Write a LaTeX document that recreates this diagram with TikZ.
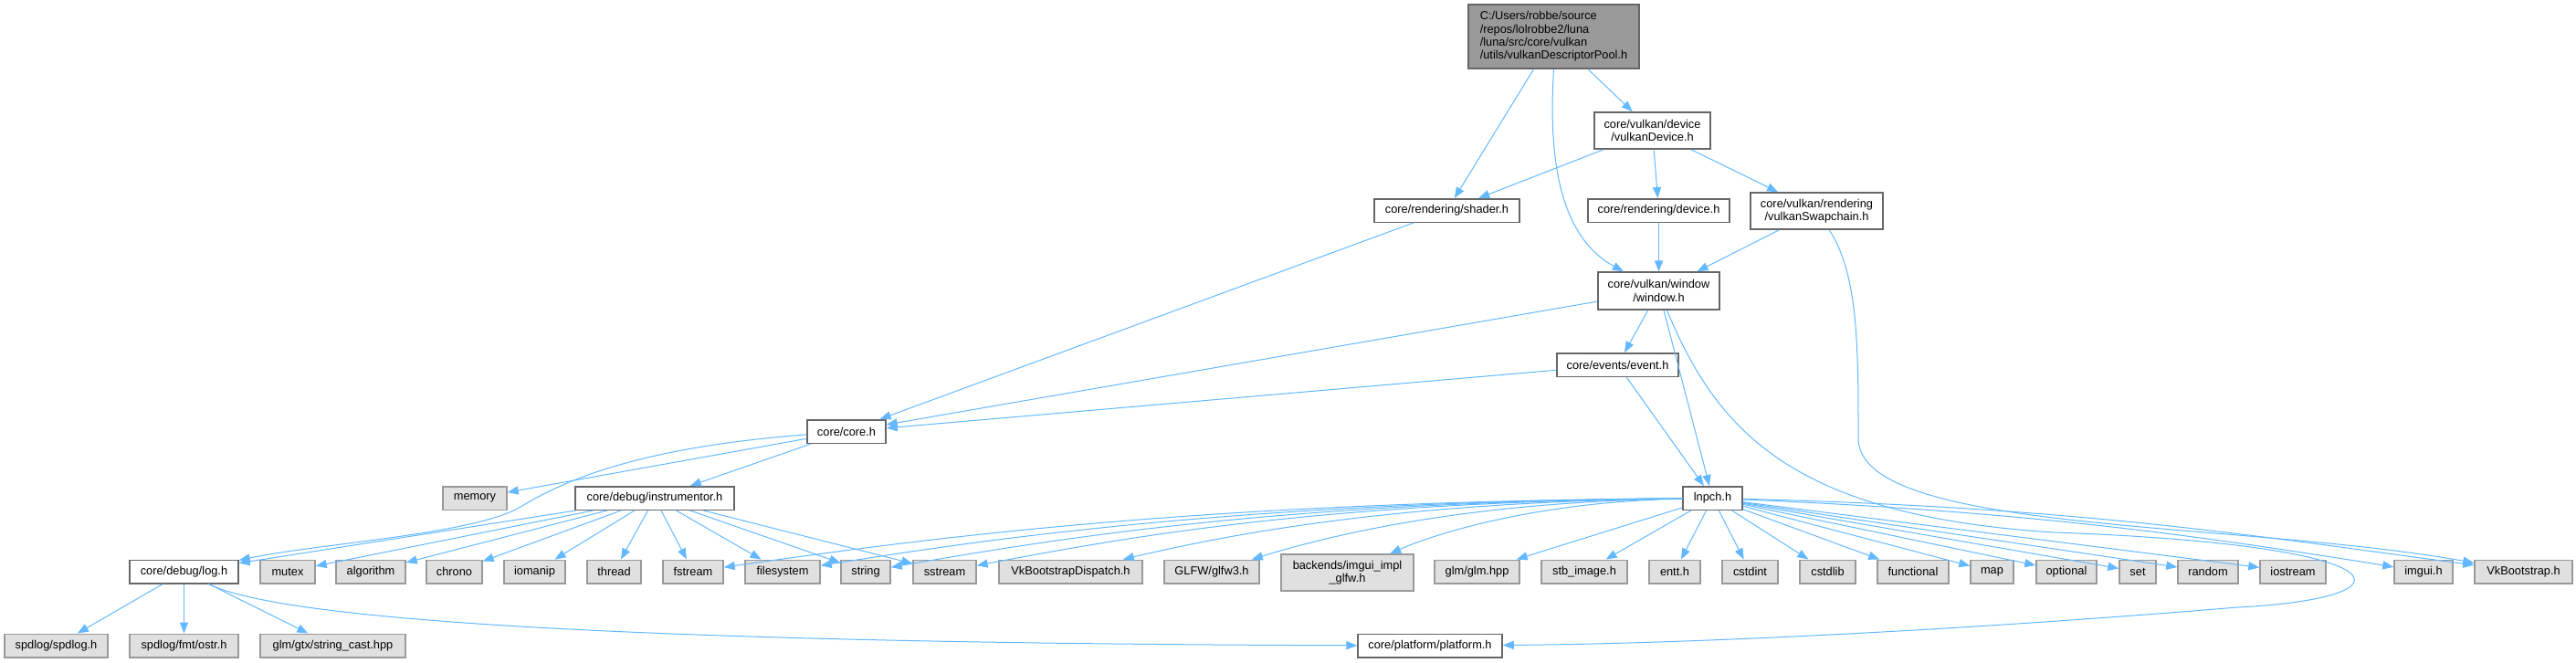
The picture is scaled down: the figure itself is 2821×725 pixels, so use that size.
\documentclass[tikz,border=0pt]{standalone}
\usepackage{fontspec}
\setmainfont{Liberation Sans}
\usetikzlibrary{arrows.meta}
\definecolor{edgec}{HTML}{63B8FF}
\definecolor{bordc}{HTML}{666666}
\definecolor{rootc}{HTML}{999999}
\definecolor{sysc}{HTML}{E0E0E0}
\definecolor{sysb}{HTML}{999999}
\begin{document}
\begin{tikzpicture}[>={Triangle[length=6pt, width=4.6pt]}, x=0.5pt, y=-0.5pt,
    font=\fontsize{6.4}{7.2}\selectfont,
    hn/.style={draw=bordc, fill=white, line width=0.75pt, inner sep=0pt, minimum height=12.75pt, align=center},
    sn/.style={hn, draw=sysb, fill=sysc},
    rn/.style={hn, fill=rootc, align=left, minimum height=35pt},
    wd/.style={minimum width=#1*0.5pt},
    dep/.style={->, edgec, line width=0.5pt}]
  \useasboundingbox (0,0) rectangle (2821,725);
  \node[rn, wd=187] (root) at (1701.5,40) {C:/Users/robbe/source\\/repos/lolrobbe2/luna\\/luna/src/core/vulkan\\/utils/vulkanDescriptorPool.h};
  \node[hn, wd=127, minimum height=20pt] (vkdev) at (1809.5,143) {core/vulkan/device\\/vulkanDevice.h};
  \node[hn, wd=159] (shader) at (1584.5,230.5) {core/rendering/shader.h};
  \node[hn, wd=155] (rdev) at (1816.5,230.5) {core/rendering/device.h};
  \node[hn, wd=145, minimum height=20pt] (swap) at (1989.5,231) {core/vulkan/rendering\\/vulkanSwapchain.h};
  \node[hn, wd=133, minimum height=20.5pt] (window) at (1816.5,318.5) {core/vulkan/window\\/window.h};
  \node[hn, wd=133] (event) at (1771.5,399.5) {core/events/event.h};
  \node[hn, wd=86] (core) at (927,472.5) {core/core.h};
  \node[hn, wd=65] (lnpch) at (1875.5,545.5) {lnpch.h};
  \node[sn, wd=70] (memory) at (520,545.5) {memory};
  \node[hn, wd=174] (instr) at (717,545.5) {core/debug/instrumentor.h};
  \node[hn, wd=119] (log) at (201.5,626) {core/debug/log.h};
  \node[sn, wd=145, minimum height=20pt] (imguiimpl) at (1475.5,627) {backends/imgui\_impl\\\_glfw.h};
  \foreach \n/\x/\w/\t in {mutex/315/60/mutex, algorithm/406/76/algorithm, chrono/497.5/61/chrono,
      iomanip/585.5/67/iomanip, thread/672.5/59/thread, fstream/759/66/fstream, filesystem/857/82/filesystem,
      string/948/54/string, sstream/1034.5/69/sstream, vkbd/1172.5/157/VkBootstrapDispatch.h,
      glfw/1327/104/{GLFW/glfw3.h}, glm/1617.5/93/{glm/glm.hpp}, stb/1735/94/{stb\_image.h}, entt/1834/56/entt.h,
      cstdint/1916.5/61/cstdint, cstdlib/2001.5/61/cstdlib, functional/2095/78/functional, map/2181.5/47/map,
      optional/2263/66/optional, set/2341/40/set, random/2418/66/random, iostream/2511/72/iostream,
      imgui/2654/64/imgui.h, vkboot/2763.5/107/VkBootstrap.h}
    \node[sn, wd=\w] (\n) at (\x,626) {\t};
  \foreach \n/\x/\w/\t in {spdlog/61.5/113/{spdlog/spdlog.h}, ostr/201.5/119/{spdlog/fmt/ostr.h},
      strcast/364.5/159/{glm/gtx/string\_cast.hpp}}
    \node[sn, wd=\w] (\n) at (\x,707) {\t};
  \node[hn, wd=158] (platform) at (1566,707) {core/platform/platform.h};

  \draw[dep] (root) -- (shader); \draw[dep] (root) -- (vkdev);
  \draw[dep] (root.south) .. controls (1695,180) and (1710,260) .. (window);
  \foreach \t in {shader, rdev, swap} \draw[dep] (vkdev) -- (\t);
  \draw[dep] (rdev) -- (window); \draw[dep] (swap) -- (window);
  \draw[dep] (swap) .. controls (2035,300) and (2035,380) .. (2035,480) .. controls (2035,585) and (2450,570) .. (vkboot);
  \foreach \s in {shader, window, event} \draw[dep] (\s) -- (core);
  \draw[dep] (window) -- (event); \draw[dep] (window) -- (lnpch); \draw[dep] (event) -- (lnpch);
  \draw[dep] (window) .. controls (1880,470) and (1960,565) .. (2250,583) .. controls (2640,597) and (2650,655) .. (2450,665) .. controls (2150,690) and (1850,705) .. (platform);
  \draw[dep] (core) -- (memory); \draw[dep] (core) -- (instr);
  \draw[dep] (core) .. controls (700,490) and (620,525) .. (570,555) .. controls (520,585) and (350,595) .. (log);
  \foreach \t in {log, mutex, algorithm, chrono, iomanip, thread, fstream, filesystem, string, sstream}
    \draw[dep] (instr) -- (\t);
  \foreach \t in {spdlog, ostr, strcast} \draw[dep] (log) -- (\t);
  \draw[dep] (log) .. controls (330,690) and (900,705) .. (platform);
  \foreach \t/\a/\b in {fstream/550/280, filesystem/500/250, string/460/230, sstream/420/210,
      vkbd/350/170, glfw/270/130, imguiimpl/200/90}
    \draw[dep] (lnpch) .. controls +(-\a,4) and +(\b,-40) .. (\t);
  \foreach \t in {glm, stb, entt, cstdint, cstdlib, functional, map, optional, set, random, iostream}
    \draw[dep] (lnpch) -- (\t);
  \draw[dep] (lnpch) .. controls +(350,15) and +(-250,-40) .. (imgui);
  \draw[dep] (lnpch) .. controls +(400,10) and +(-300,-40) .. (vkboot);
\end{tikzpicture}
\end{document}
